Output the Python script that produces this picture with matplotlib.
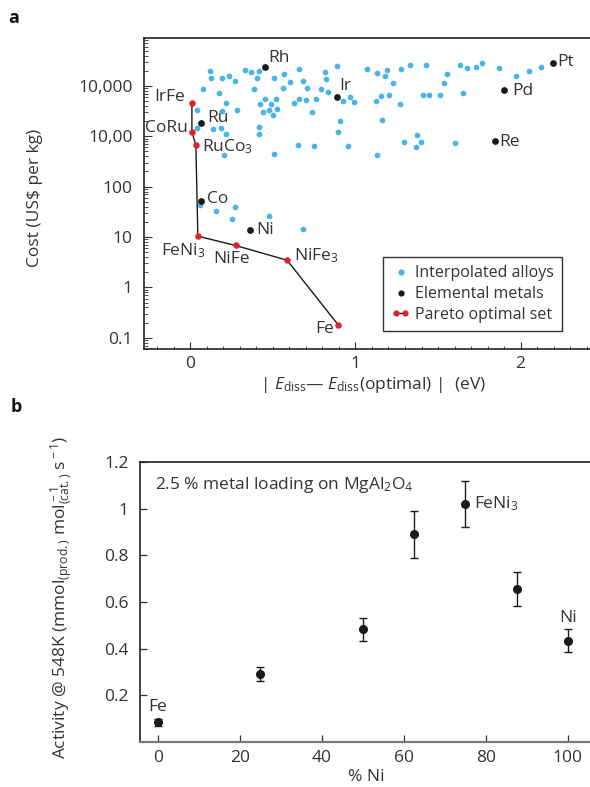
import matplotlib
matplotlib.use("Agg")
import matplotlib.pyplot as plt
from matplotlib.lines import Line2D
from matplotlib.legend_handler import HandlerLine2D
from matplotlib.ticker import FixedLocator, MultipleLocator, LogLocator, NullFormatter

plt.rcParams['font.family'] = ['Open Sans', 'DejaVu Sans']
plt.rcParams['mathtext.fontset'] = 'custom'
plt.rcParams['mathtext.rm'] = 'Open Sans'
plt.rcParams['mathtext.it'] = 'Open Sans:italic'
plt.rcParams['mathtext.bf'] = 'Open Sans:bold'
plt.rcParams['text.color'] = '#333333'
plt.rcParams['axes.edgecolor'] = '#222222'
plt.rcParams['xtick.color'] = '#333333'
plt.rcParams['ytick.color'] = '#333333'

# ---- panel a data ----
alloy_x = [0.120, 0.124, 0.190, 0.236, 0.272, 0.330, 0.368, 0.404, 0.416, 0.510,
           0.076, 0.172, 0.386, 0.218, 0.280, 0.424, 0.454, 0.486, 0.520, 0.440,
           0.476, 0.502, 0.528, 0.040, 0.194, 0.040, 0.136, 0.184, 0.214, 0.416,
           0.416, 0.204, 0.506,
           0.568, 0.658, 0.604, 0.562, 0.680, 0.706, 0.626, 0.660, 0.698, 0.762,
           0.740, 0.818, 0.820, 0.890, 0.792, 0.836, 0.926, 0.966, 0.994, 1.070,
           1.130, 1.180, 1.192, 1.228, 1.276, 1.330, 1.426, 1.122, 1.156, 1.204,
           1.272, 1.406, 1.446, 1.514, 1.538, 1.552, 1.634, 1.674, 1.732, 1.766,
           1.652, 1.872, 1.972, 2.048, 2.124, 0.908, 0.894, 1.158, 0.654, 0.748,
           0.954, 1.132, 1.294, 1.370, 1.398, 1.364, 1.604, 0.684,
           0.062, 0.156, 0.254, 0.270, 0.476]
alloy_cost = [19900, 14600, 14600, 16000, 12700, 20500, 18400, 14600, 19600, 14600,
              8600, 7260, 8600, 4650, 3290, 4450, 5430, 4390, 5600, 3000,
              3380, 2690, 3440, 3380, 3140, 1460, 1420, 1460, 1110, 1550,
              1100, 430, 450,
              17100, 21500, 11800, 9000, 12600, 9000, 4530, 5430, 5190, 5520,
              3090, 19200, 13800, 25000, 8600, 7710, 5040, 5960, 4740, 21800,
              18100, 15800, 21100, 11500, 21500, 26200, 25400, 5100, 6320, 6620,
              4310, 6720, 6620, 6620, 11500, 16800, 25800, 22800, 24200, 28200,
              7260, 22100, 15600, 20100, 23900, 1990, 1200, 2110, 671, 650,
              650, 430, 771, 1050, 771, 621, 747, 14.2,
              42.5, 33.2, 23, 39.8, 26]

metal_names = ['Rh', 'Ir', 'Pt', 'Pd', 'Re', 'Ru', 'Co', 'Ni']
metal_x = [0.454, 0.890, 2.194, 1.898, 1.842, 0.068, 0.064, 0.360]
metal_cost = [23500, 5960, 28000, 8200, 815, 1810, 53, 13.5]

pareto_names = ['IrFe', 'CoRu', r'RuCo$_{\rm 3}$', r'FeNi$_{\rm 3}$', 'NiFe',
                r'NiFe$_{\rm 3}$', 'Fe']
pareto_x = [0.010, 0.010, 0.034, 0.046, 0.274, 0.586, 0.896]
pareto_cost = [4600, 1200, 671, 10.4, 6.8, 3.47, 0.18]

cost_ticks = [0.1, 1, 10, 100, 1000, 10000]
cost_labels = ['0.1', '1', '10', '100', '10,00', '10,000']

# ---- panel b data ----
ni_pct = [0, 25, 50, 62.5, 75, 87.5, 100]
activity = [0.085, 0.29, 0.483, 0.89, 1.02, 0.655, 0.435]
activity_err = [0.015, 0.03, 0.048, 0.10, 0.10, 0.072, 0.048]

blue = '#4BB4E6'
red = '#D9262C'
dark = '#1a1a1a'

fig = plt.figure(figsize=(5.9, 7.87), dpi=100)

# ================= panel a =================
ax = fig.add_axes([144 / 590, 1 - 349 / 787, 446 / 590, 311 / 787])
ax.set_yscale('log')
ax.set_xlim(-0.28, 2.42)
ax.set_ylim(0.06, 89000)

ax.scatter(alloy_x, alloy_cost, s=17, color=blue, lw=0, zorder=2)
ax.plot(pareto_x, pareto_cost, color=dark, lw=1, zorder=3)
ax.scatter(pareto_x, pareto_cost, s=22, color=red, lw=0, zorder=4)
ax.scatter(metal_x, metal_cost, s=24, color=dark, lw=0, zorder=4)

metal_off = {'Rh': (3, 9), 'Ir': (2, 11), 'Pt': (5, 1), 'Pd': (8, -1),
             'Re': (5, -1), 'Ru': (6, 5), 'Co': (6, 2), 'Ni': (7, 0)}
for name, x, y in zip(metal_names, metal_x, metal_cost):
    ax.annotate(name, (x, y), xytext=metal_off[name], textcoords='offset pixels',
                ha='left', va='center', fontsize=12.5)

pareto_off = [(-7, 6, 'right'), (-4, 4, 'right'), (6, -2, 'left'),
              (-15, -14, 'center'), (-4, -14, 'center'), (7, 5, 'left'),
              (-4, -4, 'right')]
for name, x, y, (dx, dy, ha) in zip(pareto_names, pareto_x, pareto_cost, pareto_off):
    ax.annotate(name, (x, y), xytext=(dx, dy), textcoords='offset pixels',
                ha=ha, va='center', fontsize=12.5)

ax.yaxis.set_major_locator(FixedLocator(cost_ticks))
ax.set_yticklabels(cost_labels)
ax.yaxis.set_minor_locator(LogLocator(base=10, subs=range(2, 10)))
ax.yaxis.set_minor_formatter(NullFormatter())
ax.xaxis.set_major_locator(FixedLocator([0, 1, 2]))
ax.xaxis.set_minor_locator(MultipleLocator(0.1))
ax.tick_params(axis='both', which='major', direction='in', labelsize=12.5)
ax.tick_params(axis='y', which='major', length=5.5, width=0.8, pad=8)
ax.tick_params(axis='y', which='minor', direction='in', length=3, width=0.6)
ax.tick_params(axis='x', which='major', length=5, width=0.8, pad=5)
ax.tick_params(axis='x', which='minor', direction='in', length=2.5, width=0.6)
ax.spines['right'].set_visible(False)
for s in ['left', 'bottom', 'top']:
    ax.spines[s].set_linewidth(1.2)

handles = [
    Line2D([], [], ls='none', marker='o', ms=4.5, mfc=blue, mec='none'),
    Line2D([], [], ls='none', marker='o', ms=4.5, mfc=dark, mec='none'),
    Line2D([], [], color=dark, lw=1, marker='o', ms=4.5, mfc=red, mec='none'),
]
leg = ax.legend(handles, ['Interpolated alloys', 'Elemental metals', 'Pareto optimal set'],
                loc='lower right', bbox_to_anchor=(0.937, 0.058), fontsize=11.5,
                frameon=True, fancybox=False, edgecolor='#333333', framealpha=1,
                handlelength=1.2, handletextpad=0.3, borderpad=0.5,
                labelspacing=0.3, numpoints=1, borderaxespad=0,
                handler_map={handles[2]: HandlerLine2D(numpoints=2)})
leg.get_frame().set_linewidth(1.0)

fig.text(35 / 590, 1 - 198 / 787, 'Cost (US$ per kg)', rotation=90,
         ha='center', va='center', fontsize=12.5)
fig.text(373 / 590, 1 - 385 / 787, r'| $E_{\rm diss}$— $E_{\rm diss}$(optimal) |  (eV)',
         ha='center', va='center', fontsize=12.5)
fig.text(14 / 590, 1 - 18 / 787, 'a', ha='center', va='center',
         fontsize=13, fontweight='bold', color='#111111')

# ================= panel b =================
bx = fig.add_axes([140 / 590, 1 - 742 / 787, 450 / 590, 280 / 787])
bx.set_xlim(-4.4, 105.4)
bx.set_ylim(0, 1.2)
bx.errorbar(ni_pct, activity, yerr=activity_err, fmt='o', color=dark, ms=5.5,
            elinewidth=1, capsize=2.6, capthick=1)

bx.annotate('Fe', (ni_pct[0], activity[0]), xytext=(0, 15), textcoords='offset pixels',
            ha='center', va='center', fontsize=12.5)
bx.annotate('Ni', (ni_pct[-1], activity[-1]), xytext=(0, 23), textcoords='offset pixels',
            ha='center', va='center', fontsize=12.5)
bx.annotate(r'FeNi$_{\rm 3}$', (ni_pct[4], activity[4]), xytext=(9, 0),
            textcoords='offset pixels', ha='left', va='center', fontsize=12.5)
bx.text(15 / 450, (742 - 485) / 280, r'2.5 % metal loading on MgAl$_{\rm 2}$O$_{\rm 4}$',
        transform=bx.transAxes, ha='left', va='center', fontsize=12.5)

bx.set_yticks([0.2, 0.4, 0.6, 0.8, 1.0, 1.2])
bx.set_yticklabels(['0.2', '0.4', '0.6', '0.8', '1', '1.2'])
bx.set_xticks([0, 20, 40, 60, 80, 100])
bx.tick_params(axis='both', direction='in', labelsize=12.5, width=0.9)
bx.tick_params(axis='y', length=5, pad=8)
bx.tick_params(axis='x', length=5, pad=6)
bx.spines['right'].set_visible(False)
bx.spines['left'].set_linewidth(1.2)
bx.spines['top'].set_linewidth(1.2)
bx.spines['bottom'].set_linewidth(1.6)
bx.spines['bottom'].set_color('#777777')

fig.text(62 / 590, 1 - 597 / 787,
         r'Activity @ 548K (mmol$_{\rm (prod.)}$ mol$^{\rm -1}_{\rm (cat.)}$ s$^{\rm -1}$)',
         rotation=90, ha='center', va='center', fontsize=12.5)
fig.text(366 / 590, 1 - 777 / 787, '% Ni', ha='center', va='center', fontsize=12.5)
fig.text(16 / 590, 1 - 407 / 787, 'b', ha='center', va='center',
         fontsize=13, fontweight='bold', color='#111111')

fig.savefig('out.png', dpi=100)
